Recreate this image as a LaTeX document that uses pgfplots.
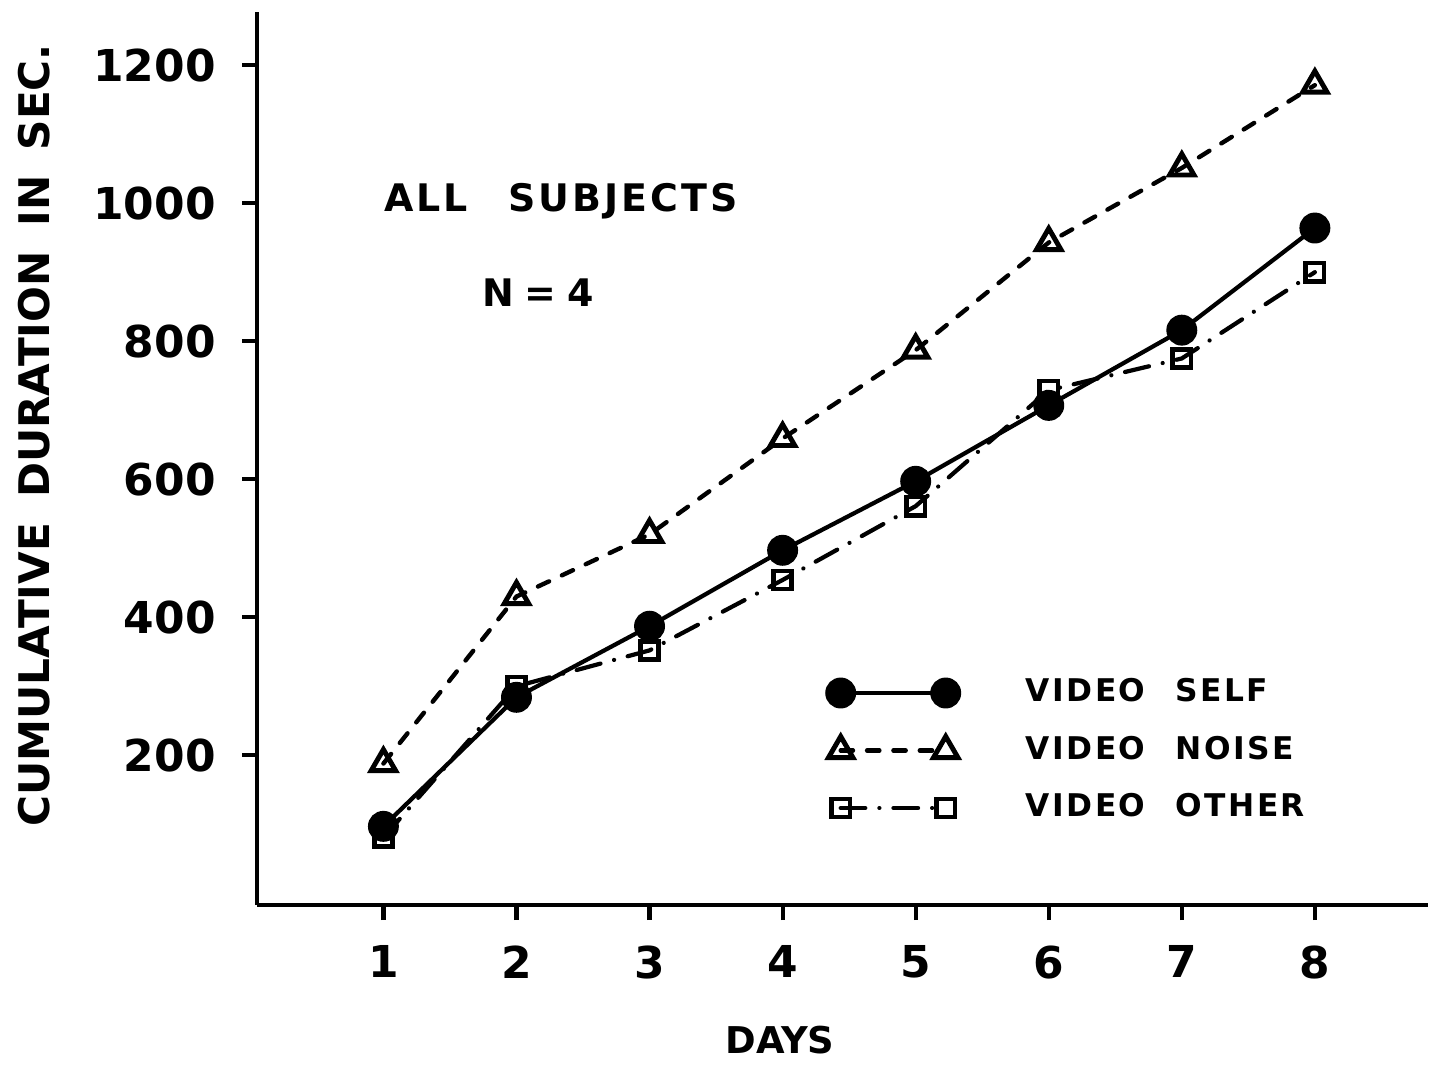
\documentclass[border=0pt]{standalone}
\usepackage{fontspec}
\setmainfont{DejaVu Sans}
\newfontfamily\legfont{DejaVu Sans}[LetterSpace=8]
\usepackage{pgfplots}
\pgfplotsset{compat=1.18}
\begin{document}
\begin{tikzpicture}
\path[use as bounding box] (-2.57cm,-1.59cm) rectangle (11.76cm,9.05cm);
\begin{axis}[
  scale only axis, width=11.71cm, height=8.93cm,
  at={(0,0)}, anchor=south west,
  xmin=0.05, xmax=8.85, ymin=-17, ymax=1277,
  axis lines=left,
  axis line style={-, line width=1.2pt},
  xtick={1,2,3,4,5,6,7,8},
  ytick={200,400,600,800,1000,1200},
  tick align=outside,
  major tick length=0.15cm,
  tick style={line width=1.2pt, black},
  /pgf/number format/assume math mode=true,
  /pgf/number format/1000 sep={},
  ticklabel style={font=\bfseries\fontsize{12.5}{14}\selectfont},
  yticklabel style={xshift=-0.14cm},
  xticklabel style={yshift=-0.13cm},
  xlabel={DAYS},
  ylabel={CUMULATIVE\hspace{0.25cm}DURATION\hspace{0.25cm}IN\hspace{0.25cm}SEC.},
  xlabel style={at={(axis description cs:0.4466,-0.151)}, anchor=center,
    font=\bfseries\fontsize{10.5}{12}\selectfont},
  ylabel style={at={(axis description cs:-0.19,0.526)}, anchor=center,
    font=\bfseries\fontsize{12}{14}\selectfont},
  legend image code/.code={
    \path[draw=none, fill=none] (-0.2cm,-0.2875cm) rectangle (1.78cm,0.2875cm);
    \draw[#1] plot coordinates {(0cm,0cm) (1.05cm,0cm)};
  },
  reverse legend,
  legend cell align=left,
  legend style={draw=none, fill=none, inner xsep=0pt, inner ysep=0pt,
    at={(axis description cs:0.4808,0.2704)}, anchor=north west,
    row sep=0pt, nodes={inner sep=2pt},
    font=\legfont\bfseries\fontsize{8.9}{10}\selectfont},
]
\addplot[black, line width=1.2pt, line cap=round,
  dash pattern=on 7pt off 4pt on 0.01pt off 4pt,
  mark=square, mark size=2.6pt,
  mark options={solid, line width=1.3pt, fill=white}]
  coordinates {(1,81) (2,300) (3,352) (4,454) (5,561) (6,729) (7,775) (8,900)};
\addlegendentry{VIDEO\hspace{0.3cm}OTHER}
\addplot[black, line width=1.25pt, line cap=round,
  dash pattern=on 3.5pt off 4pt,
  mark=triangle, mark size=4pt,
  mark options={solid, line width=1.4pt, fill=white}]
  coordinates {(1,188) (2,430) (3,520) (4,659) (5,787) (6,943) (7,1051) (8,1171)};
\addlegendentry{VIDEO\hspace{0.3cm}NOISE}
\addplot[black, line width=1.2pt, mark=*, mark size=3.8pt,
  mark options={solid, fill=black}]
  coordinates {(1,97) (2,284) (3,387) (4,497) (5,597) (6,707) (7,816) (8,964)};
\addlegendentry{VIDEO\hspace{0.3cm}SELF}
\node[font=\legfont\bfseries\fontsize{10.8}{12}\selectfont] at (axis cs:2.334,1003) {ALL\hspace{0.4cm}SUBJECTS};
\node[font=\legfont\bfseries\fontsize{10.8}{12}\selectfont] at (axis cs:2.161,871) {N\hspace{3pt}=\hspace{3pt}4};
\end{axis}
\end{tikzpicture}
\end{document}
